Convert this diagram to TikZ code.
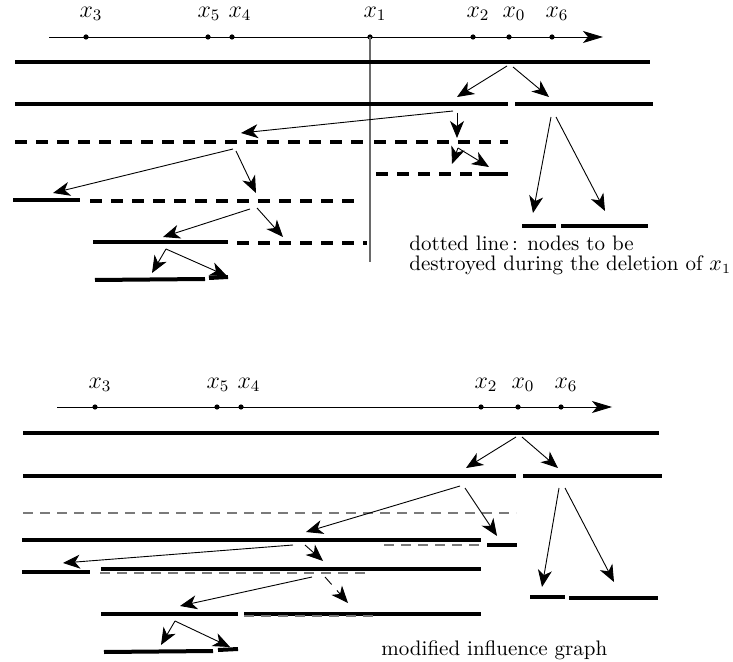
\documentclass[tikz,border=0pt]{standalone}
\usepackage{tikz}
\usetikzlibrary{arrows.meta}
\definecolor{Ink}{HTML}{000000}
\definecolor{Rule}{HTML}{6A6A6A}
\definecolor{Ghost}{HTML}{7A7A7A}
\tikzset{
  seg/.style={Ink,line width=2pt},
  dseg/.style={Ink,line width=2pt,dash pattern=on 6pt off 4.5pt},
  gseg/.style={Ghost,line width=.7pt,dash pattern=on 5pt off 3.5pt},
  link/.style={Ink,line width=.45pt,-{Stealth[length=8.5pt,width=7pt,inset=2.5pt]}},
  dlink/.style={link,dash pattern=on 5pt off 4pt},
  axisline/.style={Ink,line width=.45pt,-{Stealth[length=10pt,width=6pt,inset=2.5pt]}},
  tick/.style={circle,fill=Ink,inner sep=0pt,minimum size=2.6pt},
  ptlabel/.style={font=\large},
  prose/.style={anchor=west,inner sep=0pt,font=\fontsize{10.5}{10}\selectfont}
}
\begin{document}
\begin{tikzpicture}[x=.5pt,y=-.5pt]
      \useasboundingbox (0,0) rectangle (733,662);
      \coordinate (axA0) at (49,37);
      \coordinate (axA1) at (603,37);
      \draw[axisline] (axA0) -- (axA1);
      \foreach \px/\k/\dx in {86/3/5,208/5/1,232/4/8,370/1/5,473/2/5,509/0/5,552/6/5} {
        \node[tick] (a\k) at (\px,37) {};
        \node[ptlabel] (la\k) at (\px+\dx,14) {$x_{\k}$};
      }
      \coordinate (cut) at (370,262);
      \draw[Rule,line width=.6pt] (a1.center) -- (cut);
      \draw[seg] (15,62) -- (650,62);
      \draw[seg] (15,104) -- (508,104);
      \draw[seg] (515,104) -- (653,104);
      \draw[dseg] (15,142) -- (368,142);
      \draw[dseg] (374,142) -- (508,142);
      \draw[dseg] (376,174) -- (475,174);
      \draw[seg] (479,174) -- (508,174);
      \draw[seg] (13,200) -- (80,200);
      \draw[dseg] (90,201) -- (357,201);
      \draw[seg] (93,242) -- (228,242);
      \draw[dseg] (237,243) -- (367,243);
      \draw[seg] (95,280) -- (205,279);
      \draw[seg] (209,278) -- (228,277);
      \draw[seg] (522,226) -- (556,226);
      \draw[seg] (561,226) -- (648,226);
      \foreach \n/\tx/\ty/\hx/\hy in {1/507/66/457/97,2/513/67/549/97,3/453/111/241/133,4/457/113/457/138,5/458/148/452/164,6/458/148/489/167,7/233/149/53/193,8/236/151/256/193,9/250/209/163/237,10/257/208/283/237,11/166/249/152/273,12/166/249/227/276,13/551/117/533/213,14/556/117/605/211} {
        \coordinate (ta\n) at (\tx,\ty);
        \coordinate (ha\n) at (\hx,\hy);
        \draw[link] (ta\n) -- (ha\n);
      }
      \node[prose,align=left] (note) at (409,255) {dotted line$\,$: nodes to be\\destroyed during the deletion of $x_1$};
      \coordinate (axB0) at (57,407);
      \coordinate (axB1) at (612,407);
      \draw[axisline] (axB0) -- (axB1);
      \foreach \px/\k/\dx in {95/3/5,217/5/1,241/4/8,481/2/5,518/0/5,561/6/5} {
        \node[tick] (b\k) at (\px,407) {};
        \node[ptlabel] (lb\k) at (\px+\dx,385) {$x_{\k}$};
      }
      \draw[seg] (23,433) -- (659,433);
      \draw[seg] (23,476) -- (516,476);
      \draw[seg] (523,476) -- (662,476);
      \draw[gseg] (23,513) -- (516,513);
      \draw[seg] (22,540) -- (481,540);
      \draw[gseg] (384,545) -- (480,545);
      \draw[seg] (487,545) -- (517,545);
      \draw[seg] (22,572) -- (90,572);
      \draw[seg] (101,569) -- (481,569);
      \draw[gseg] (100,573) -- (365,573);
      \draw[seg] (101,614) -- (238,614);
      \draw[seg] (244,614) -- (481,614);
      \draw[gseg] (244,616) -- (375,616);
      \draw[seg] (104,652) -- (213,651);
      \draw[seg] (218,650) -- (238,649);
      \draw[seg] (530,597) -- (565,597);
      \draw[seg] (569,598) -- (658,598);
      \foreach \n/\tx/\ty/\hx/\hy in {1/516/437/466/468,2/522/437/558/468,3/460/486/306/532,4/465/488/497/536,5/293/545/63/563,6/305/545/323/561,7/312/577/180/606,8/175/621/161/645,9/175/621/230/647,10/559/488/542/587,11/565/488/614/582} {
        \coordinate (tb\n) at (\tx,\ty);
        \coordinate (hb\n) at (\hx,\hy);
        \draw[link] (tb\n) -- (hb\n);
      }
      \coordinate (tb12) at (325,577);
      \coordinate (hb12) at (348,603);
      \draw[dlink] (tb12) -- (hb12);
      \node[prose] (caption) at (381,650) {modified influence graph};
    \end{tikzpicture}
\end{document}
